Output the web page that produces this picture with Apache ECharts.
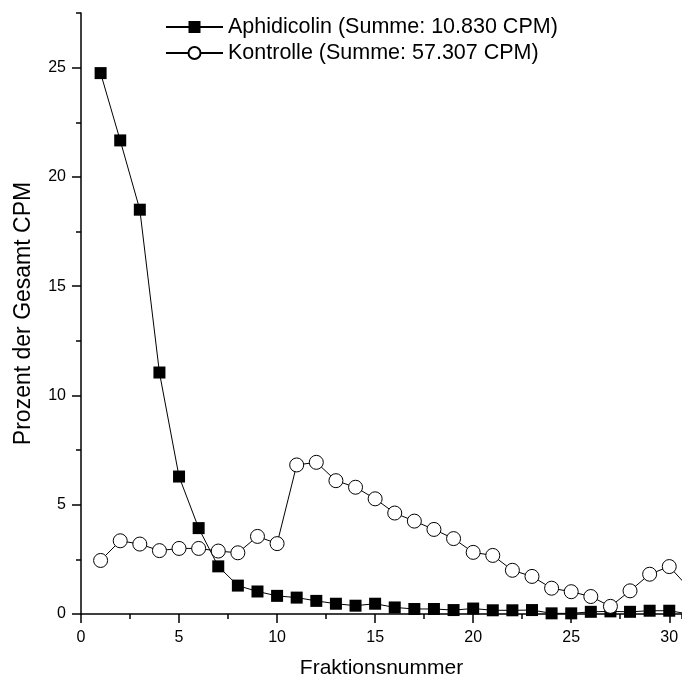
<!DOCTYPE html>
<html>
<head>
<meta charset="utf-8">
<script src="https://cdn.jsdelivr.net/npm/echarts@6/dist/echarts.min.js"></script>
<style>
html,body{margin:0;padding:0;background:#fff;}
#chart{width:682px;height:684px;}
</style>
</head>
<body>
<div id="chart"></div>
<script>
var fractions = [1,2,3,4,5,6,7,8,9,10,11,12,13,14,15,16,17,18,19,20,21,22,23,24,25,26,27,28,29,30,31];
var aphidicolin = [24.75,21.67,18.5,11.05,6.29,3.93,2.18,1.3,1.03,0.83,0.75,0.6,0.47,0.38,0.47,0.3,0.23,0.23,0.18,0.25,0.17,0.17,0.18,0.03,0.03,0.1,0.12,0.1,0.15,0.15,0.0];
var kontrolle = [2.45,3.35,3.2,2.9,3.0,3.0,2.88,2.8,3.55,3.22,6.82,6.94,6.1,5.8,5.27,4.62,4.25,3.87,3.45,2.82,2.68,2.0,1.72,1.18,1.02,0.8,0.35,1.06,1.82,2.17,1.2];
var xMajorTicks = [0,5,10,15,20,25,30];
var yMajorTicks = [0,5,10,15,20,25];
var seriesNames = ['Aphidicolin (Summe: 10.830 CPM)','Kontrolle (Summe: 57.307 CPM)'];

function pairs(xs, ys){ return xs.map(function(x,i){ return [x, ys[i]]; }); }

var FONT = 'Arial, "Liberation Sans", sans-serif';
var chart = echarts.init(document.getElementById('chart'), null, {renderer:'canvas'});
chart.setOption({
  animation:false,
  backgroundColor:'#fff',
  grid:{left:81,right:0,top:13,bottom:67,containLabel:false},
  legend:{
    orient:'vertical', left:160, top:11, itemWidth:57, itemHeight:15, itemGap:4,
    textStyle:{fontSize:21.5,color:'#000',fontFamily:FONT},
    data:seriesNames
  },
  xAxis:[{
    type:'value', min:0, max:30.65, interval:5,
    name:'Fraktionsnummer', nameLocation:'middle', nameGap:44,
    nameTextStyle:{fontSize:21,color:'#000',fontFamily:FONT},
    axisLine:{onZero:false,lineStyle:{color:'#000',width:1.5}},
    axisTick:{show:true,inside:false,length:9,lineStyle:{color:'#000',width:1.5},customValues:xMajorTicks},
    axisLabel:{color:'#000',fontSize:16,fontFamily:FONT,margin:16,customValues:xMajorTicks,
      formatter:function(v){ return (v%5===0)?String(v):''; }},
    splitLine:{show:false}
  },{
    type:'value', min:0, max:30.65, interval:2.5, position:'bottom',
    axisLine:{show:false}, axisLabel:{show:false}, splitLine:{show:false},
    axisTick:{show:true,inside:false,length:5,lineStyle:{color:'#000',width:1.5}}
  }],
  yAxis:[{
    type:'value', min:0, max:27.5, interval:5,
    name:'Prozent der Gesamt CPM', nameLocation:'middle', nameGap:46,
    nameTextStyle:{fontSize:23,color:'#000',fontFamily:FONT},
    axisLine:{lineStyle:{color:'#000',width:1.5}},
    axisTick:{show:true,inside:false,length:9,lineStyle:{color:'#000',width:1.5},customValues:yMajorTicks},
    axisLabel:{color:'#000',fontSize:16,fontFamily:FONT,margin:15,customValues:yMajorTicks,
      formatter:function(v){ return (v%5===0)?String(v):''; }},
    splitLine:{show:false}
  },{
    type:'value', min:0, max:27.5, interval:2.5, position:'left',
    axisLine:{show:false}, axisLabel:{show:false}, splitLine:{show:false},
    axisTick:{show:true,inside:false,length:5,lineStyle:{color:'#000',width:1.5}}
  }],
  series:[{
    name:seriesNames[0], type:'line', xAxisIndex:0, yAxisIndex:0,
    data:pairs(fractions, aphidicolin),
    symbol:'rect', symbolSize:12, clip:true,
    lineStyle:{color:'#000',width:1},
    itemStyle:{color:'#000',borderColor:'#000',borderWidth:0},
    z:2
  },{
    name:seriesNames[1], type:'line', xAxisIndex:0, yAxisIndex:0,
    data:pairs(fractions, kontrolle),
    symbol:'circle', symbolSize:14, clip:true,
    lineStyle:{color:'#000',width:1},
    itemStyle:{color:'#fff',borderColor:'#000',borderWidth:1},
    z:3
  }]
});
</script>
</body>
</html>
